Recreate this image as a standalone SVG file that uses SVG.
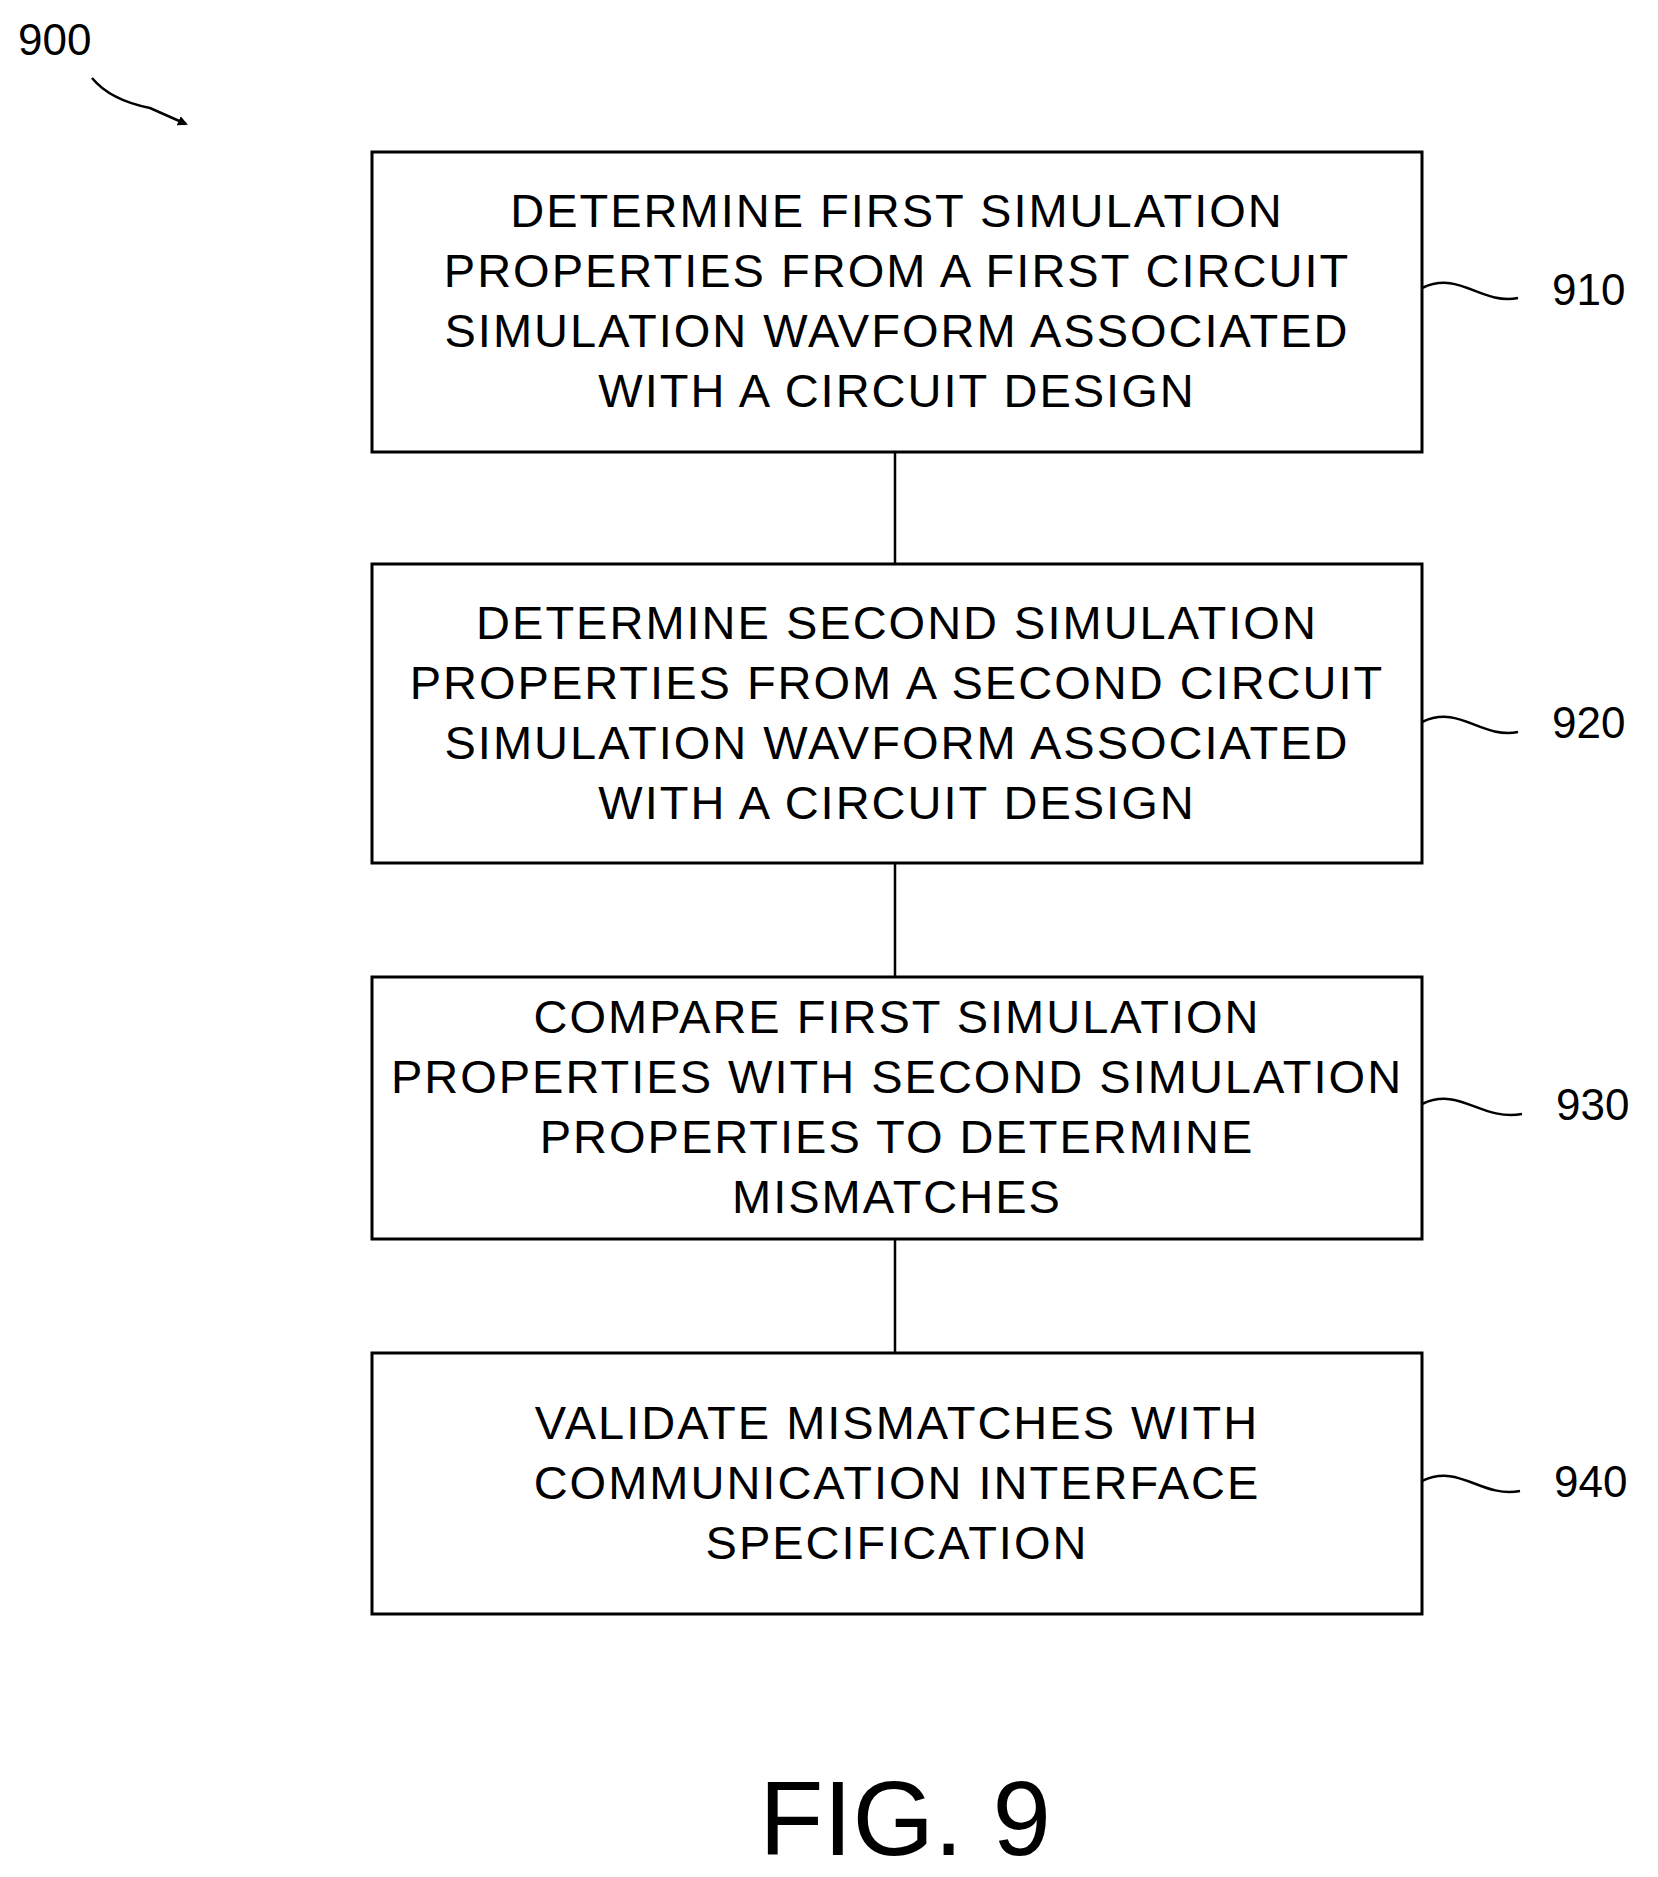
<svg xmlns="http://www.w3.org/2000/svg" width="1658" height="1877" viewBox="0 0 1658 1877">
<style>
.box{fill:#fff;stroke:#000;stroke-width:3}
.t{font-family:"Liberation Sans",Arial,sans-serif;font-size:47px;text-anchor:middle;letter-spacing:2px}
.lbl{font-family:"Liberation Sans",Arial,sans-serif;font-size:44px}
.c{stroke:#000;stroke-width:2.5;fill:none}
</style>
<defs><marker id="ah" markerWidth="10" markerHeight="10" refX="8" refY="5" orient="auto" markerUnits="userSpaceOnUse" viewBox="0 0 10 10"><path d="M0,0 L10,5 L0,10 z"/></marker></defs>
<text class="lbl" x="18" y="55">900</text>
<path d="M92,78 Q110,100 150,108 L186,124" class="c" marker-end="url(#ah)"/>
<g id="connectors">
<line class="c" x1="895" y1="452" x2="895" y2="564"/>
<line class="c" x1="895" y1="863" x2="895" y2="977"/>
<line class="c" x1="895" y1="1239" x2="895" y2="1353"/>
<path class="c" d="M1422,288 C1460,270 1480,305 1518,298"/>
<path class="c" d="M1422,722 C1460,704 1480,739 1518,732"/>
<path class="c" d="M1422,1104 C1460,1086 1480,1121 1522,1114"/>
<path class="c" d="M1422,1481 C1460,1463 1480,1498 1520,1491"/>
</g>
<g id="n910"><rect class="box" x="372" y="152" width="1050" height="300"/>
<text class="t" x="897" y="227">DETERMINE FIRST SIMULATION</text>
<text class="t" x="897" y="287">PROPERTIES FROM A FIRST CIRCUIT</text>
<text class="t" x="897" y="347">SIMULATION WAVFORM ASSOCIATED</text>
<text class="t" x="897" y="407">WITH A CIRCUIT DESIGN</text>
<text class="lbl" x="1552" y="305">910</text></g>
<g id="n920"><rect class="box" x="372" y="564" width="1050" height="299"/>
<text class="t" x="897" y="639">DETERMINE SECOND SIMULATION</text>
<text class="t" x="897" y="699">PROPERTIES FROM A SECOND CIRCUIT</text>
<text class="t" x="897" y="759">SIMULATION WAVFORM ASSOCIATED</text>
<text class="t" x="897" y="819">WITH A CIRCUIT DESIGN</text>
<text class="lbl" x="1552" y="738">920</text></g>
<g id="n930"><rect class="box" x="372" y="977" width="1050" height="262"/>
<text class="t" x="897" y="1033">COMPARE FIRST SIMULATION</text>
<text class="t" x="897" y="1093">PROPERTIES WITH SECOND SIMULATION</text>
<text class="t" x="897" y="1153">PROPERTIES TO DETERMINE</text>
<text class="t" x="897" y="1213">MISMATCHES</text>
<text class="lbl" x="1556" y="1120">930</text></g>
<g id="n940"><rect class="box" x="372" y="1353" width="1050" height="261"/>
<text class="t" x="897" y="1439">VALIDATE MISMATCHES WITH</text>
<text class="t" x="897" y="1499">COMMUNICATION INTERFACE</text>
<text class="t" x="897" y="1559">SPECIFICATION</text>
<text class="lbl" x="1554" y="1497">940</text></g>
<text x="905" y="1855" font-family="Liberation Sans,Arial,sans-serif" font-size="105" text-anchor="middle">FIG. 9</text>
</svg>
